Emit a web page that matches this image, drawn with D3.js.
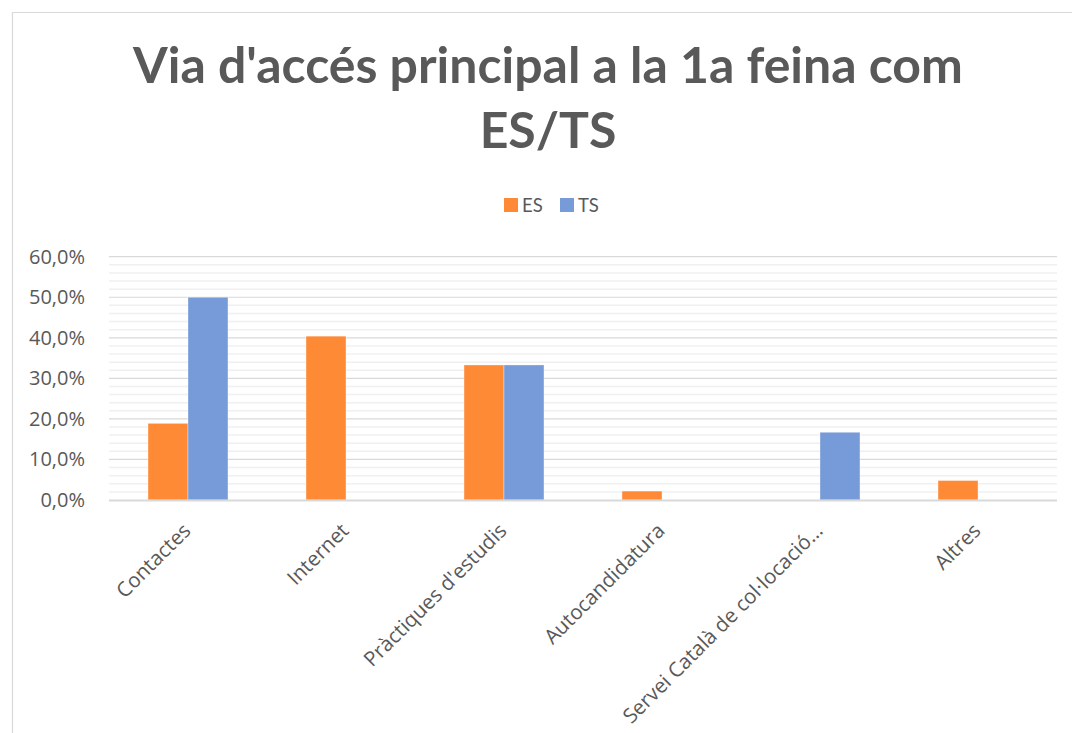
<!DOCTYPE html>
<html>
<head>
<meta charset="utf-8">
<script src="https://cdn.jsdelivr.net/npm/d3@7"></script>
<style>
  body { margin: 0; background: #fff; }
  svg { display: block; }
</style>
</head>
<body>
<svg id="chart" width="1072" height="733"></svg>
<script>
// ==================================
// DATA
// ==================================
const categories = ["Contactes", "Internet", "Pràctiques d'estudis", "Autocandidatura",
                    "Servei Català de col·locació…", "Altres"];
const seriesNames = ["ES", "TS"];
const esValues = [0.189, 0.404, 0.333, 0.022, 0, 0.048];
const tsValues = [0.50, 0, 0.333, 0, 0.167, 0];
const yTicks = [0, 0.1, 0.2, 0.3, 0.4, 0.5, 0.6];
const titleLines = ["Via d'accés principal a la 1a feina com", "ES/TS"];

const colors = { "ES": "#FF8A36", "TS": "#779AD8" };
const textColor = "#595959";

// ==================================
// LAYOUT
// ==================================
const W = 1072, H = 733;
const plot = { left: 109, right: 1057, top: 256.7, bottom: 500 };

const svg = d3.select("#chart");

// chart area border (only left and top visible in the picture)
svg.append("path")
    .attr("d", `M12.5,${H} L12.5,12.5 L${W},12.5`)
    .attr("fill", "none")
    .attr("stroke", "#d9d9d9")
    .attr("stroke-width", 1.2);

// title
const title = svg.append("g").attr("class", "title");
title.selectAll("text")
    .data(titleLines)
    .enter()
    .append("text")
    .attr("x", 548)
    .attr("y", (d, i) => 83 + i * 65)
    .attr("text-anchor", "middle")
    .style("font-family", "Lato, 'Open Sans', sans-serif")
    .style("font-weight", "bold")
    .style("font-size", "46px")
    .style("fill", textColor)
    .text(d => d);

// fit first line to the reference width
const firstLine = title.select("text").node();
const w0 = firstLine.getComputedTextLength();
const fitSize = 46 * 830 / w0;
title.selectAll("text").style("font-size", fitSize + "px");

// ==================================
// SCALES
// ==================================
const x0 = d3.scaleBand()
    .domain(categories)
    .range([plot.left, plot.right])
    .paddingInner(0.494)
    .paddingOuter(0.247);

const x1 = d3.scaleBand()
    .domain(seriesNames)
    .range([0, x0.bandwidth()]);

const y = d3.scaleLinear()
    .domain([0, 0.6])
    .range([plot.bottom, plot.top]);

// ==================================
// GRIDLINES
// ==================================
const minorTicks = d3.range(0, 0.6001, 0.02).filter(t => Math.abs(Math.round(t * 10) - t * 10) > 1e-6);

svg.append("g")
    .selectAll("line")
    .data(minorTicks)
    .enter()
    .append("line")
    .attr("x1", plot.left)
    .attr("x2", plot.right)
    .attr("y1", d => y(d))
    .attr("y2", d => y(d))
    .attr("stroke", "#f0f0f0")
    .attr("stroke-width", 1.5);

svg.append("g")
    .selectAll("line")
    .data(yTicks.slice(1))
    .enter()
    .append("line")
    .attr("x1", plot.left)
    .attr("x2", plot.right)
    .attr("y1", d => y(d))
    .attr("y2", d => y(d))
    .attr("stroke", "#d9d9d9")
    .attr("stroke-width", 1.2);

// y axis labels
const fmt = v => d3.format(".1f")(v * 100).replace(".", ",") + "%";
const yAxis = d3.axisLeft(y)
    .tickValues(yTicks)
    .tickFormat(fmt)
    .tickSize(0)
    .tickPadding(24);

const yG = svg.append("g")
    .attr("transform", `translate(${plot.left},0)`)
    .call(yAxis);
yG.select(".domain").remove();
yG.selectAll("text")
    .style("font-family", "'Open Sans', sans-serif")
    .style("font-size", "20px")
    .style("fill", textColor);

// ==================================
// BARS
// ==================================
const rows = categories.map((c, i) => ({ cat: c, ES: esValues[i], TS: tsValues[i] }));

const groups = svg.append("g")
    .selectAll("g")
    .data(rows)
    .enter()
    .append("g")
    .attr("transform", d => `translate(${x0(d.cat)},0)`);

groups.selectAll("rect")
    .data(d => seriesNames.map(s => ({ key: s, value: d[s] })).filter(e => e.value > 0))
    .enter()
    .append("rect")
    .attr("x", d => x1(d.key))
    .attr("width", x1.bandwidth())
    .attr("y", d => y(d.value))
    .attr("height", d => plot.bottom - y(d.value))
    .attr("fill", d => colors[d.key])
    .attr("stroke", "rgba(255,255,255,0.35)")
    .attr("stroke-width", 1);

// x axis line
svg.append("line")
    .attr("x1", plot.left)
    .attr("x2", plot.right)
    .attr("y1", plot.bottom + 0.5)
    .attr("y2", plot.bottom + 0.5)
    .attr("stroke", "#d9d9d9")
    .attr("stroke-width", 1.8);

// x axis labels, rotated -45
const xAxis = d3.axisBottom(x0).tickSize(0).tickPadding(0);
const xG = svg.append("g")
    .attr("transform", `translate(0,${plot.bottom})`)
    .call(xAxis);
xG.select(".domain").remove();
xG.selectAll("text")
    .attr("text-anchor", "end")
    .attr("dy", null)
    .attr("y", 0)
    .attr("transform", "translate(4,32) rotate(-45)")
    .style("font-family", "'Open Sans', sans-serif")
    .style("font-size", "20.5px")
    .style("fill", textColor);

// ==================================
// LEGEND
// ==================================
const legendItems = [
    { key: "ES", x: 504 },
    { key: "TS", x: 560 }
];
const legend = svg.append("g");
legend.selectAll("rect")
    .data(legendItems)
    .enter()
    .append("rect")
    .attr("x", d => d.x)
    .attr("y", 198)
    .attr("width", 14)
    .attr("height", 14)
    .attr("fill", d => colors[d.key]);
legend.selectAll("text")
    .data(legendItems)
    .enter()
    .append("text")
    .attr("x", d => d.x + 18)
    .attr("y", 211.5)
    .style("font-family", "Lato, 'Open Sans', sans-serif")
    .style("font-size", "18.5px")
    .style("fill", textColor)
    .text(d => d.key);
</script>
</body>
</html>
